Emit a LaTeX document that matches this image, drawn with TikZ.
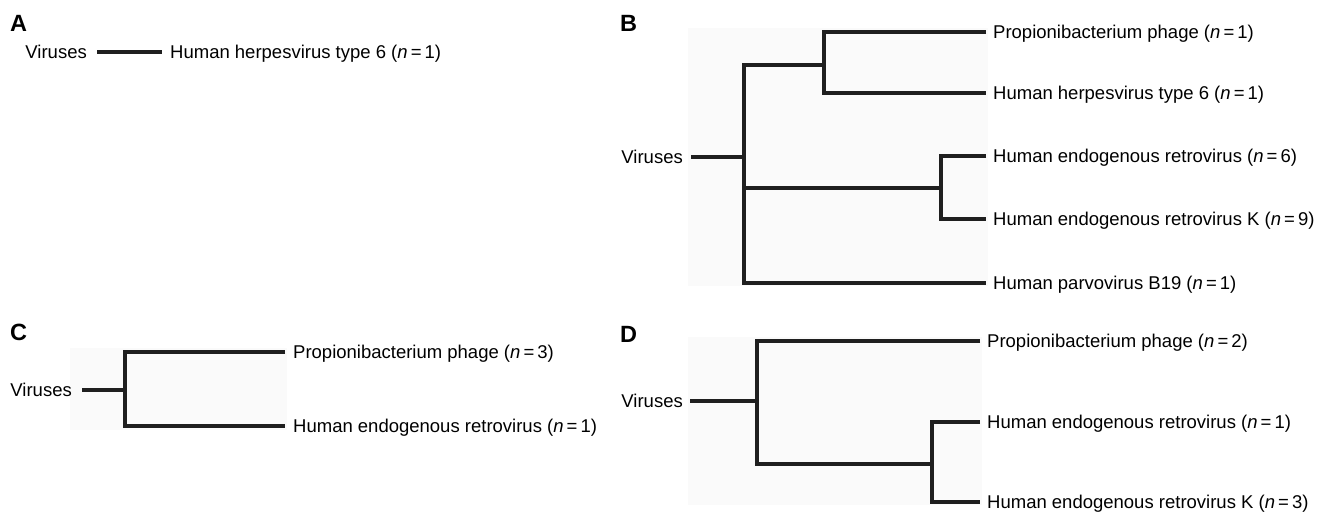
\documentclass[tikz,border=0pt]{standalone}
\usepackage{fontspec}
\setmainfont{Liberation Sans}
\newcommand{\nn}[1]{(\textit{n}\,=\,#1)}
\begin{document}
\begin{tikzpicture}[x=1pt,y=-1pt,
  br/.style={line width=3.4pt, line join=miter, line cap=butt, black!88},
  bg/.style={fill=black!2, draw=none},
  leaflab/.style={anchor=base west, inner sep=0pt, yshift=-6.5pt, font=\fontsize{18.5}{22}\selectfont},
  rootlab/.style={anchor=base east, inner sep=0pt, yshift=-6.5pt, font=\fontsize{18.5}{22}\selectfont},
  panel/.style={anchor=base west, inner sep=0pt, font=\fontsize{23.5}{26}\selectfont\bfseries}]
\useasboundingbox (0,0) rectangle (1328,513);
% backgrounds
\fill[bg] (688,28) rectangle (988,286);
\fill[bg] (70,348) rectangle (287,430);
\fill[bg] (688,337) rectangle (982,505);
% panel letters
\node[panel] (pA) at (10,32) {A};
\node[panel] (pB) at (620,32) {B};
\node[panel] (pC) at (10,340) {C};
\node[panel] (pD) at (620,342) {D};
% ---------- Panel A
\coordinate (rA) at (97,52);
\coordinate (lA) at (162,52);
\node[rootlab] (vA) at (87,52) {Viruses};
\node[leaflab] (tA) at (170,52) {Human herpesvirus type 6 \nn{1}};
\draw[br] (rA) -- (lA);
% ---------- Panel B
\coordinate (rB) at (691,157);
\coordinate (jB) at (744,157);
\coordinate (jB1) at (744,65);
\coordinate (jB2) at (744,188);
\coordinate (kB1) at (824,65);
\coordinate (kB2) at (941,188);
\coordinate (lB1) at (986,32);
\coordinate (lB2) at (986,93);
\coordinate (lB3) at (986,156);
\coordinate (lB4) at (986,219);
\coordinate (lB5) at (986,283);
\node[rootlab] (vB) at (683,157) {Viruses};
\node[leaflab] (tB1) at (993,32) {Propionibacterium phage \nn{1}};
\node[leaflab] (tB2) at (993,93) {Human herpesvirus type 6 \nn{1}};
\node[leaflab] (tB3) at (993,156) {Human endogenous retrovirus \nn{6}};
\node[leaflab] (tB4) at (993,219) {Human endogenous retrovirus K \nn{9}};
\node[leaflab] (tB5) at (993,283) {Human parvovirus B19 \nn{1}};
\draw[br] (rB) -- (jB);
\draw[br] (kB1) -| (jB) |- (lB5);
\draw[br] (lB1) -| (kB1) |- (lB2);
\draw[br] (jB2) -- (kB2);
\draw[br] (lB3) -| (kB2) |- (lB4);
% ---------- Panel C
\coordinate (rC) at (82,390);
\coordinate (jC) at (125,390);
\coordinate (lC1) at (285,352);
\coordinate (lC2) at (285,426);
\node[rootlab] (vC) at (72,390) {Viruses};
\node[leaflab] (tC1) at (293,352) {Propionibacterium phage \nn{3}};
\node[leaflab] (tC2) at (293,426) {Human endogenous retrovirus \nn{1}};
\draw[br] (rC) -- (jC);
\draw[br] (lC1) -| (jC) |- (lC2);
% ---------- Panel D
\coordinate (rD) at (690,401);
\coordinate (jD) at (757,401);
\coordinate (jD2) at (757,464);
\coordinate (kD) at (932,464);
\coordinate (lD1) at (980,341);
\coordinate (lD2) at (980,422);
\coordinate (lD3) at (980,502);
\node[rootlab] (vD) at (683,401) {Viruses};
\node[leaflab] (tD1) at (987,341) {Propionibacterium phage \nn{2}};
\node[leaflab] (tD2) at (987,422) {Human endogenous retrovirus \nn{1}};
\node[leaflab] (tD3) at (987,502) {Human endogenous retrovirus K \nn{3}};
\draw[br] (rD) -- (jD);
\draw[br] (lD1) -| (jD) |- (kD);
\draw[br] (lD2) -| (kD) |- (lD3);
\end{tikzpicture}
\end{document}
